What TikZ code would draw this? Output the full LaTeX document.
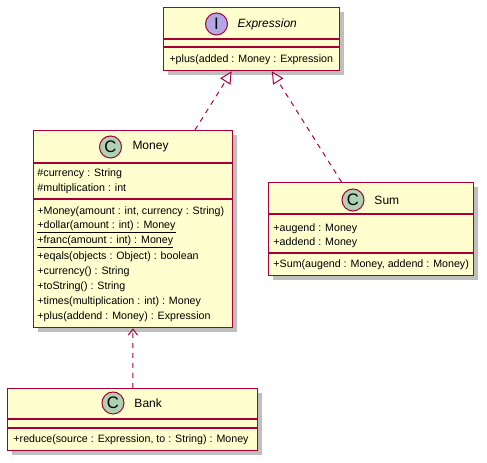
\documentclass[tikz,border=0pt]{standalone}
\usepackage{fontspec}
\setmainfont{Liberation Sans}
\usetikzlibrary{arrows.meta,shadows}

\definecolor{umlfill}{HTML}{FEFECE}
\definecolor{umlline}{HTML}{A80036}
\definecolor{spotclass}{HTML}{ADD1B2}
\definecolor{spotiface}{HTML}{B4A7E5}

\tikzset{every picture/.style={line width=0.75pt}}
\tikzset{
  classbox/.style={draw=umlline, fill=umlfill, line width=1pt, inner sep=0pt, anchor=north west,
    drop shadow={shadow xshift=3pt, shadow yshift=-3pt, fill=black, opacity=0.25}},
  spot/.style={circle, draw=umlline, line width=0.75pt, minimum size=16.5pt, inner sep=0pt, font=\fontsize{12.5}{12.5}\selectfont},
  classname/.style={anchor=west, inner sep=0pt, font=\fontsize{9}{10}\selectfont},
  member/.style={anchor=west, inner sep=0pt, font=\fontsize{8}{9}\selectfont},
  divider/.style={draw=umlline, line width=1pt},
  realize/.style={draw=umlline, dash pattern=on 3.75pt off 3.75pt, -{Triangle[open, length=9pt, width=9pt, fill=white]}},
  depend/.style={draw=umlline, dash pattern=on 3.75pt off 3.75pt, -{Straight Barb[length=4.5pt, width=7pt]}}
}

\begin{document}
\begin{tikzpicture}[x=0.75pt,y=0.75pt,yscale=-1,xscale=1]
\useasboundingbox (0,0) rectangle (487,463);

%Class Expression
\node [classbox, minimum width=132pt, minimum height=47.25pt] (expr) at (163,7) {};
\draw [divider] (163,39) -- (339,39);
\draw [divider] (163,47) -- (339,47);
\node [spot, fill=spotiface] (exprspot) at (216.5,24) {I};
\node [classname, font=\fontsize{9}{10}\selectfont\itshape] (exprname) at (237,24) {Expression};
\node [member] (exprplus) at (169,59.5) {+plus(added : Money : Expression};

%Class Money
\node [classbox, minimum width=149.25pt, minimum height=147.75pt] (money) at (33,130) {};
\draw [divider] (33,163) -- (232,163);
\draw [divider] (33,199) -- (232,199);
\node [spot, fill=spotclass] (moneyspot) at (110.5,147) {C};
\node [classname] (moneyname) at (132,147) {Money};
\node [member] (mcurrency) at (37,174) {\#currency : String};
\node [member] (mmult) at (37,188.5) {\#multiplication : int};
\node [member] (mctor) at (37,212) {+Money(amount : int, currency : String)};
\node [member] (mdollar) at (37,227) {\underline{+dollar(amount : int) : Money}};
\node [member] (mfranc) at (37,242) {\underline{+franc(amount : int) : Money}};
\node [member] (mequals) at (37,257) {+eqals(objects : Object) : boolean};
\node [member] (mcurr) at (37,272) {+currency() : String};
\node [member] (mtostr) at (37,287) {+toString() : String};
\node [member] (mtimes) at (37,302) {+times(multiplication : int) : Money};
\node [member] (mplus) at (37,317) {+plus(addend : Money) : Expression};

%Class Sum
\node [classbox, minimum width=153.75pt, minimum height=69.75pt] (sum) at (268,182) {};
\draw [divider] (268,214) -- (473,214);
\draw [divider] (268,253) -- (473,253);
\node [spot, fill=spotclass] (sumspot) at (353,200) {C};
\node [classname] (sumname) at (374,200) {Sum};
\node [member] (saugend) at (273,228.5) {+augend : Money};
\node [member] (saddend) at (273,243) {+addend : Money};
\node [member] (sctor) at (273,265) {+Sum(augend : Money, addend : Money)};

%Class Bank
\node [classbox, minimum width=187.5pt, minimum height=46.5pt] (bank) at (7,388) {};
\draw [divider] (7,419) -- (257,419);
\draw [divider] (7,428) -- (257,428);
\node [spot, fill=spotclass] (bankspot) at (113,403) {C};
\node [classname] (bankname) at (134,403) {Bank};
\node [member] (breduce) at (13,440) {+reduce(source : Expression, to : String) : Money};

%Realizations
\draw [realize] (money) -- (expr);
\draw [realize] (sum) -- (expr);
%Dependency
\draw [depend] (bank) -- (money);

\end{tikzpicture}
\end{document}
